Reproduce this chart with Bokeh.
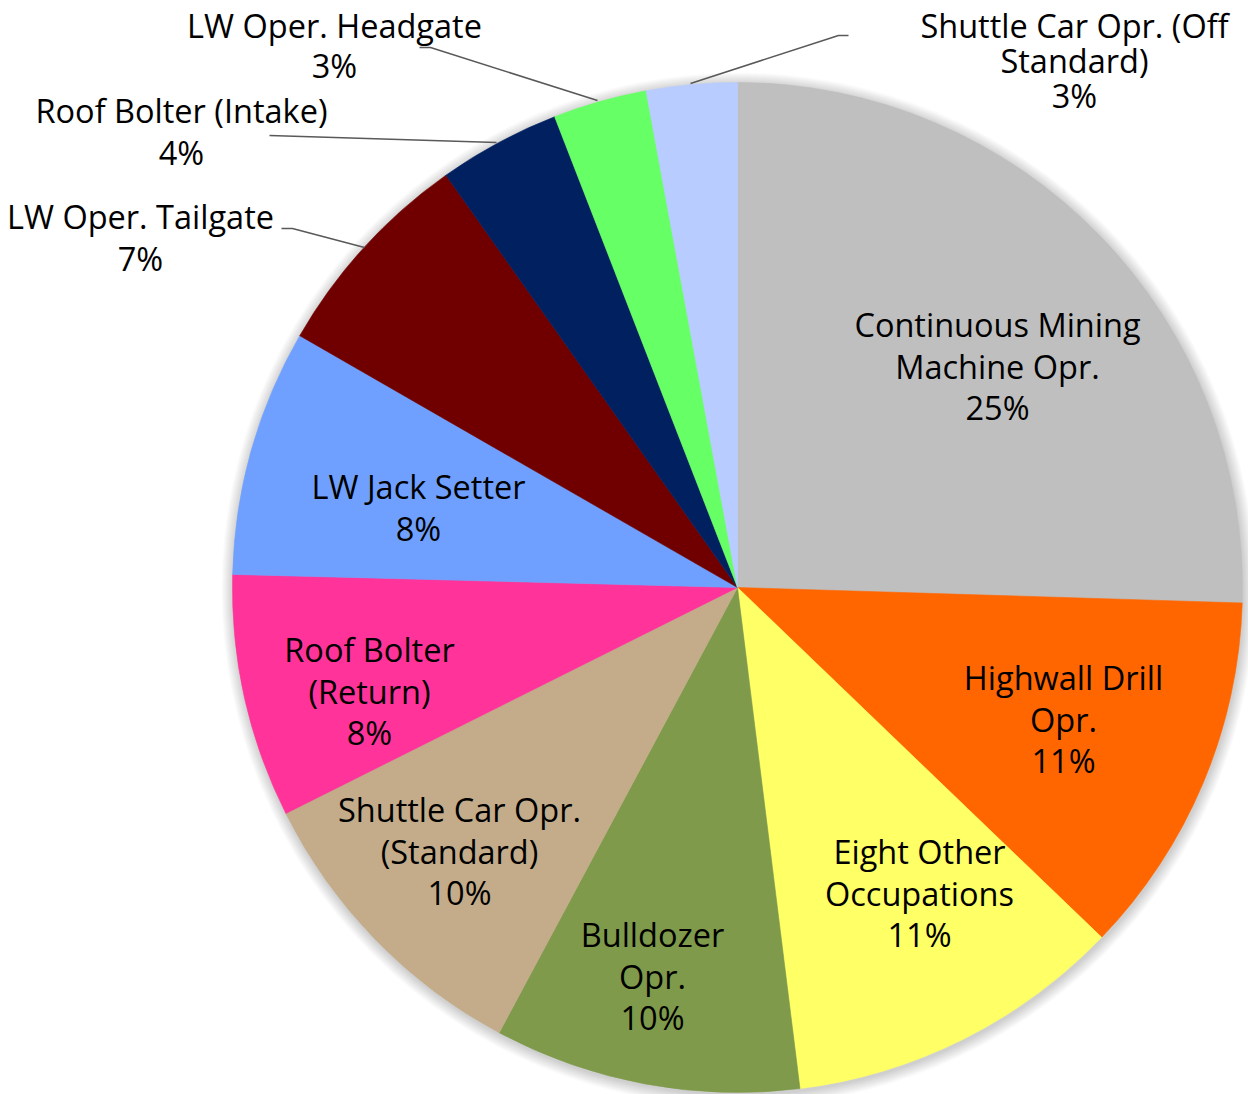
import numpy as np
from bokeh.plotting import figure
from bokeh.models import Range1d, ColumnDataSource
from bokeh.embed import file_html
from bokeh.resources import INLINE
from bokeh.core.properties import value

# ---------------- data ----------------
categories = [
    "Continuous Mining Machine Opr.", "Highwall Drill Opr.", "Eight Other Occupations",
    "Bulldozer Opr.", "Shuttle Car Opr. (Standard)", "Roof Bolter (Return)",
    "LW Jack Setter", "LW Oper. Tailgate", "Roof Bolter (Intake)",
    "LW Oper. Headgate", "Shuttle Car Opr. (Off Standard)",
]
shares = [25.5, 11.7, 10.85, 9.8, 9.8, 7.8, 7.9, 6.9, 3.9, 3.0, 2.9]
pct_labels = ["25%", "11%", "11%", "10%", "10%", "8%", "8%", "7%", "4%", "3%", "3%"]
label_lines = [
    ["Continuous Mining", "Machine Opr."], ["Highwall Drill", "Opr."],
    ["Eight Other", "Occupations"], ["Bulldozer", "Opr."],
    ["Shuttle Car Opr.", "(Standard)"], ["Roof Bolter", "(Return)"],
    ["LW Jack Setter"], ["LW Oper. Tailgate"], ["Roof Bolter (Intake)"],
    ["LW Oper. Headgate"], ["Shuttle Car Opr. (Off", "Standard)"],
]
colors = ["#BFBFBF", "#FF6600", "#FFFF66", "#7E9A4A", "#C4AC8A", "#FF3399",
          "#6FA0FF", "#700000", "#002060", "#66FF66", "#B8CCFF"]

# ---------------- layout ----------------
W, H = 1248, 1094
CX, CY = 737, 587           # pie centre in page pixels
R = 505
TEXT_DY = -12               # renderer baseline correction
FONT = "Open Sans"
FONT_SIZE = "32.5px"

# label anchor: (x centre, first-line baseline, line step) in page pixels
label_pos = [(997, 336, 41.5), (1063, 689, 41.5), (919, 863, 41.5), (652, 946, 41.5),
             (459, 821, 41.5), (369, 661, 41.5), (418, 498, 41.5), (140, 228, 41.5),
             (181, 122, 41.5), (334, 37, 39.5), (1074, 37, 35)]
leaders = [
    None, None, None, None, None, None, None,
    [(281, 228), (292, 228), (364, 247)],
    [(269, 135), (496, 142)],
    [(419, 47), (430, 47), (597, 100)],
    [(848, 35), (838, 35), (690, 83)],
]


def to_data(x, y):
    return x - CX, CY - y


p = figure(width=W, height=H, output_backend="svg", toolbar_location=None,
           x_range=Range1d(-CX, W - CX), y_range=Range1d(CY - H, CY),
           min_border=0)
p.axis.visible = False
p.grid.visible = False
p.outline_line_color = None
p.background_fill_color = "white"
p.border_fill_color = "white"

# soft shadow
for d in range(1, 13):
    p.circle(x=1, y=-2, radius=R + d, fill_color="black", fill_alpha=0.016, line_color=None)

frac = np.array(shares) / np.sum(shares)
cum = np.cumsum(frac)
start_c = cum - frac
src = ColumnDataSource(dict(
    start=np.pi / 2 - 2 * np.pi * cum,
    end=np.pi / 2 - 2 * np.pi * start_c,
    color=colors,
    name=categories,
))
p.wedge(x=0, y=0, radius=R, start_angle="start", end_angle="end",
        fill_color="color", line_color="color", line_width=0.6, source=src)

# leader lines
for ld in leaders:
    if ld is None:
        continue
    pts = [to_data(x, y) for x, y in ld]
    p.line([a for a, b in pts], [b for a, b in pts], line_color="#595959", line_width=1.5)

# labels
tx, ty, tt = [], [], []
for (lx, ly, step), lines, pct in zip(label_pos, label_lines, pct_labels):
    for k, s in enumerate(lines + [pct]):
        dx, dy = to_data(lx, ly + k * step + TEXT_DY)
        tx.append(dx)
        ty.append(dy)
        tt.append(s)
p.text(x=tx, y=ty, text=tt, text_align="center", text_baseline="alphabetic",
       text_font=value(FONT), text_font_size=FONT_SIZE, text_color="black")

open("out.html", "w").write(file_html(p, INLINE))
